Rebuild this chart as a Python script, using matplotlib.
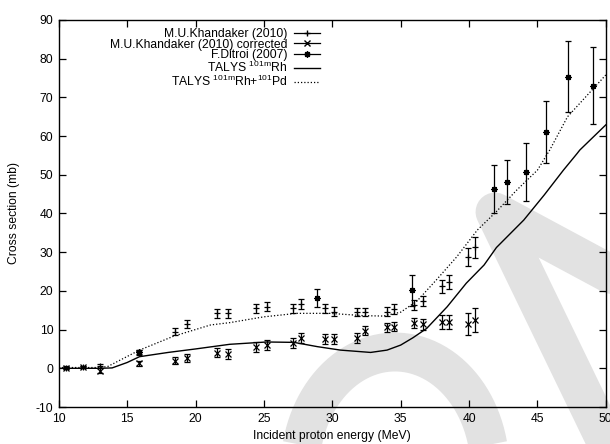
import numpy as np
import matplotlib
matplotlib.use("Agg")
import matplotlib.pyplot as plt
from matplotlib.lines import Line2D

plt.rcParams['font.family'] = ['Liberation Sans', 'DejaVu Sans']
plt.rcParams['mathtext.default'] = 'regular'
plt.rcParams['axes.unicode_minus'] = False
plt.rcParams['font.size'] = 8.7

# M.U.Khandaker (2010)
khan_e = [10.5, 11.8, 13.0, 15.9, 18.5, 19.4, 21.6, 22.4, 24.4, 25.2, 27.1, 27.7,
          29.5, 30.1, 31.8, 32.4, 34.0, 34.5, 36.0, 36.6, 38.0, 38.5, 39.9, 40.4]
khan_cs = [0.2, 0.4, 0.6, 4.1, 9.5, 11.4, 14.2, 14.2, 15.5, 15.9, 15.5, 16.5,
           15.5, 14.6, 14.5, 14.5, 14.6, 15.3, 16.4, 17.4, 21.2, 22.4, 28.7, 31.3]
khan_err = [0.3, 0.3, 0.6, 0.6, 0.9, 1.0, 1.1, 1.1, 1.2, 1.2, 1.2, 1.3,
            1.2, 1.2, 1.1, 1.1, 1.2, 1.2, 1.3, 1.4, 1.7, 1.8, 2.3, 2.7]

# M.U.Khandaker (2010) corrected
corr_cs = [0.1, 0.3, -0.6, 1.3, 2.0, 2.6, 4.0, 3.7, 5.4, 6.0, 6.6, 7.9,
           7.6, 7.6, 7.8, 9.7, 10.6, 10.8, 11.6, 11.4, 11.9, 11.9, 11.5, 12.5]
corr_err = [0.3, 0.3, 0.6, 0.6, 0.9, 1.0, 1.2, 1.4, 1.3, 1.4, 1.3, 1.3,
            1.2, 1.2, 1.2, 1.2, 1.2, 1.2, 1.3, 1.4, 1.8, 1.8, 2.8, 3.0]

# F.Ditroi (2007)
dit_e = [15.9, 28.9, 35.8, 41.8, 42.8, 44.2, 45.6, 47.2, 49.1]
dit_cs = [4.3, 18.2, 20.2, 46.3, 48.1, 50.8, 61.1, 75.3, 73.0]
dit_err = [0.5, 2.4, 4.0, 6.3, 5.7, 7.5, 8.0, 9.2, 10.0]

# TALYS 101mRh
talys_e = [10.0, 13.0, 13.9, 15.0, 15.9, 18.0, 20.0, 22.5, 25.2, 27.2, 28.9, 30.6,
           32.8, 34.0, 35.0, 35.9, 36.9, 38.4, 39.8, 41.1, 42.0, 44.0, 45.5,
           46.9, 47.9, 48.1, 50.0]
talys_cs = [0.0, 0.0, 0.1, 1.5, 3.0, 4.1, 5.0, 6.2, 6.8, 6.7, 5.6, 4.7,
            4.1, 4.7, 6.0, 7.9, 10.3, 15.9, 22.0, 26.7, 31.2, 38.3, 44.8,
            51.2, 55.5, 56.4, 62.9]

# TALYS 101mRh + 101Pd
sum_e = [10.0, 13.0, 13.6, 15.9, 18.4, 21.1, 22.5, 25.0, 27.4, 29.8, 32.3, 33.7,
         35.0, 36.2, 37.6, 39.1, 40.6, 42.0, 43.5, 45.0, 45.9, 47.2, 50.0]
sum_cs = [0.2, 0.2, 0.5, 4.7, 8.3, 11.2, 11.8, 13.3, 14.2, 14.2, 13.6, 13.5,
          14.5, 17.4, 22.8, 28.8, 35.7, 40.5, 46.1, 51.2, 56.4, 65.0, 75.8]

W, H = 610, 444
fig = plt.figure(figsize=(W / 100, H / 100), dpi=100)
ax = fig.add_axes([58.8 / W, 1 - 407 / H, 547 / W, 387 / H])
ax.patch.set_visible(False)

# light grey watermark behind the plot
def px(xs, ys):
    return [x / W for x in xs], [1 - y / H for y in ys]

wm = dict(color='#e2e2e2', lw=28, solid_joinstyle='round',
          transform=fig.transFigure, zorder=-5)
t = np.linspace(0, np.pi, 60)
ax_, ay_ = px(395 - 95 * np.cos(t), 470 - 118 * np.sin(t))
fig.add_artist(Line2D(ax_, ay_, solid_capstyle='butt', **wm))
lx, ly = px([615, 495, 640], [460, 212, 290])
fig.add_artist(Line2D(lx, ly, solid_capstyle='round', **wm))
cx, cy = px([640, 628], [100, 100])
fig.add_artist(Line2D(cx, cy, solid_capstyle='round', **wm))

eb = dict(color='k', lw=0.9, elinewidth=0.9, capsize=2.5, capthick=0.9,
          linestyle='none', markeredgewidth=0.9)
ax.errorbar(khan_e, khan_cs, yerr=khan_err, marker='+', markersize=4.5, **eb)
ax.errorbar(khan_e, corr_cs, yerr=corr_err, marker='x', markersize=4, **eb)
ax.errorbar(dit_e, dit_cs, yerr=dit_err, marker=(8, 2, 0), markersize=4.5, **eb)
ax.plot(talys_e, talys_cs, color='k', lw=1.0)
ax.plot(sum_e, sum_cs, color='k', lw=0.9, linestyle=(0, (1, 1.6)))

ax.set_xlim(10, 50)
ax.set_ylim(-10, 90)
ax.set_xticks(np.arange(10, 51, 5))
ax.set_yticks(np.arange(-10, 91, 10))
ax.tick_params(direction='in', length=5, width=0.9, top=True, right=True, pad=4)
for s in ax.spines.values():
    s.set_linewidth(1.0)
ax.set_xlabel('Incident proton energy (MeV)', labelpad=4)
ax.set_ylabel('Cross section (mb)', labelpad=11)

handles = [
    Line2D([], [], color='k', lw=0.9, marker='+', markersize=4.5),
    Line2D([], [], color='k', lw=0.9, marker='x', markersize=4),
    Line2D([], [], color='k', lw=0.9, marker=(8, 2, 0), markersize=4.5),
    Line2D([], [], color='k', lw=1.0),
    Line2D([], [], color='k', lw=0.9, linestyle=(0, (1, 1.6))),
]
labels = ['M.U.Khandaker (2010)', 'M.U.Khandaker (2010) corrected', 'F.Ditroi (2007)',
          'TALYS $^{101m}$Rh', 'TALYS $^{101m}$Rh+$^{101}$Pd']
ax.legend(handles, labels, loc='upper right', bbox_to_anchor=(0.478, 0.98),
          frameon=False, markerfirst=False, handlelength=2.2,
          handletextpad=0.5, labelspacing=-0.1, borderpad=0, borderaxespad=0)

fig.savefig('out.png', dpi=100)
